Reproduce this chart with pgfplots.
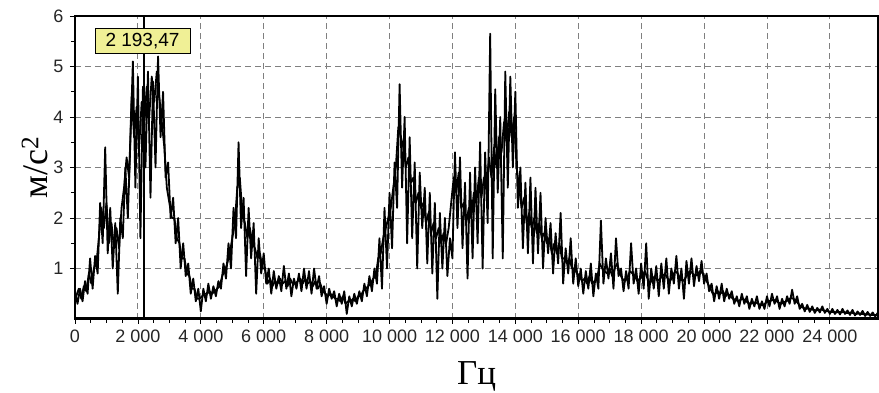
\documentclass[border=0pt]{standalone}
\usepackage{pgfplots}
\pgfplotsset{compat=1.18}
\usepackage{fontspec}
\setmainfont{Liberation Sans}
\newfontfamily\serifcyr{Liberation Serif}
\definecolor{tipyellow}{RGB}{240,240,150}
\begin{document}
\begin{tikzpicture}
\path[use as bounding box] (-75pt,-74pt) rectangle (804pt,319pt);
\begin{axis}[
  scale only axis, width=803pt, height=303pt,
  xmin=0, xmax=25530, ymin=0, ymax=6,
  scaled x ticks=false,
  axis line style={line width=1.5pt},
  tick pos=left, tick align=outside,
  major tick length=5pt, minor tick length=4pt,
  every tick/.style={black, line width=0.8pt},
  xtick={0,2000,4000,6000,8000,10000,12000,14000,16000,18000,20000,22000,24000},
  xticklabels={0,2 000,4 000,6 000,8 000,10 000,12 000,14 000,16 000,18 000,20 000,22 000,24 000},
  minor x tick num=3,
  ytick={1,2,3,4,5,6}, yticklabels={1,2,3,4,5,6},
  minor y tick num=1,
  grid=major,
  major grid style={black!50, line width=0.9pt, dash pattern=on 6pt off 4pt},
  tick label style={font=\fontsize{18}{20}\selectfont, text=black!85},
  xticklabel style={yshift=-2pt},
  yticklabel style={xshift=-3pt},
  xlabel={Гц}, ylabel={м/с\textsuperscript{2}},
  xlabel style={font=\serifcyr\fontsize{35}{38}\selectfont, at={(axis description cs:0.5,0)}, anchor=base, yshift=-66pt},
  ylabel style={font=\serifcyr\fontsize{36}{38}\selectfont, at={(axis description cs:-0.0345,0.5)}, anchor=base},
]
\addplot[black, line width=1.8pt, line join=round] coordinates {
(0,0.55)(80,0.3)(160,0.6)(240,0.35)(320,0.75)(400,0.5)(480,1.2)(560,0.6)(640,1.25)(720,0.9)
(800,2.3)(880,1.5)(960,3.4)(1040,1.3)(1120,2.2)(1200,1.0)(1280,1.9)(1360,0.5)(1440,2.0)(1520,1.6)
(1600,3.0)(1680,2.0)(1760,3.5)(1840,5.1)(1920,2.6)(2000,4.8)(2080,1.6)(2160,4.6)(2240,3.0)(2320,4.9)
(2400,2.4)(2480,4.7)(2560,3.0)(2640,5.2)(2720,3.6)(2800,4.5)(2880,2.8)(2960,3.1)(3040,2.0)(3120,2.4)
(3200,1.5)(3280,2.0)(3360,1.0)(3440,1.5)(3520,0.85)(3600,1.1)(3680,0.5)(3760,0.8)(3840,0.35)(3920,0.6)
(4000,0.15)(4080,0.6)(4160,0.35)(4240,0.7)(4320,0.4)(4400,0.65)(4480,0.45)(4560,0.75)(4640,0.6)(4720,1.1)
(4800,0.8)(4880,1.5)(4960,1.0)(5040,2.2)(5120,1.6)(5200,3.5)(5280,1.8)(5360,2.4)(5440,0.85)(5520,2.2)
(5600,1.2)(5680,1.9)(5760,0.5)(5840,1.6)(5920,0.9)(6000,1.3)(6080,0.7)(6160,1.0)(6240,0.5)(6320,0.95)
(6400,0.6)(6480,0.85)(6560,0.55)(6640,1.05)(6720,0.6)(6800,0.9)(6880,0.45)(6960,0.8)(7040,0.6)(7120,0.9)
(7200,0.55)(7280,1.0)(7360,0.6)(7440,0.95)(7520,0.5)(7600,1.0)(7680,0.6)(7760,0.85)(7840,0.45)(7920,0.65)
(8000,0.3)(8080,0.6)(8160,0.4)(8240,0.55)(8320,0.25)(8400,0.5)(8480,0.3)(8560,0.55)(8640,0.1)(8720,0.45)
(8800,0.25)(8880,0.5)(8960,0.3)(9040,0.55)(9120,0.35)(9200,0.7)(9280,0.45)(9360,0.85)(9440,0.55)(9520,1.0)
(9600,0.7)(9680,1.6)(9760,0.6)(9840,2.2)(9920,1.0)(10000,2.5)(10080,1.4)(10160,3.1)(10240,2.2)(10320,4.65)
(10400,2.6)(10480,4.0)(10560,1.5)(10640,3.6)(10720,1.6)(10800,3.1)(10880,1.0)(10960,2.9)(11040,1.8)(11120,2.6)
(11200,1.1)(11280,2.5)(11360,0.9)(11440,2.3)(11520,0.4)(11600,2.1)(11680,1.0)(11760,2.0)(11840,0.85)(11920,1.6)
(12000,1.2)(12080,3.3)(12160,1.8)(12240,3.2)(12320,1.4)(12400,2.7)(12480,0.8)(12560,2.9)(12640,1.2)(12720,3.0)
(12800,1.5)(12880,3.5)(12960,1.0)(13040,3.3)(13120,1.9)(13200,5.65)(13280,1.2)(13360,4.55)(13440,2.5)(13520,4.0)
(13600,1.2)(13680,4.9)(13760,2.6)(13840,4.8)(13920,3.0)(14000,4.5)(14080,2.2)(14160,3.0)(14240,1.4)(14320,2.7)
(14400,1.3)(14480,2.8)(14560,1.1)(14640,2.6)(14720,1.3)(14800,2.5)(14880,1.0)(14960,2.0)(15040,1.3)(15120,1.9)
(15200,0.9)(15280,1.7)(15360,1.1)(15440,2.1)(15520,0.7)(15600,1.4)(15680,0.9)(15760,1.6)(15840,0.7)(15920,1.2)
(16000,0.65)(16080,1.0)(16160,0.5)(16240,0.95)(16320,0.6)(16400,1.1)(16480,0.45)(16560,0.9)(16640,0.6)(16720,1.95)
(16800,0.7)(16880,1.2)(16960,0.8)(17040,1.3)(17120,0.6)(17200,1.6)(17280,0.85)(17360,1.0)(17440,0.55)(17520,0.95)
(17600,0.6)(17680,1.5)(17760,0.7)(17840,1.0)(17920,0.5)(18000,1.1)(18080,0.6)(18160,1.5)(18240,0.4)(18320,1.0)
(18400,0.6)(18480,1.05)(18560,0.45)(18640,1.1)(18720,0.6)(18800,1.2)(18880,0.5)(18960,1.0)(19040,0.7)(19120,1.25)
(19200,0.6)(19280,1.0)(19360,0.4)(19440,1.15)(19520,0.7)(19600,1.2)(19680,0.65)(19760,1.05)(19840,0.75)(19920,1.15)
(20000,0.7)(20080,0.9)(20160,0.55)(20240,0.7)(20320,0.35)(20400,0.65)(20480,0.4)(20560,0.7)(20640,0.35)(20720,0.6)
(20800,0.4)(20880,0.55)(20960,0.3)(21040,0.45)(21120,0.25)(21200,0.5)(21280,0.3)(21360,0.45)(21440,0.2)(21520,0.4)
(21600,0.25)(21680,0.45)(21760,0.2)(21840,0.35)(21920,0.2)(22000,0.45)(22080,0.25)(22160,0.5)(22240,0.3)(22320,0.45)
(22400,0.2)(22480,0.4)(22560,0.25)(22640,0.45)(22720,0.3)(22800,0.58)(22880,0.3)(22960,0.45)(23040,0.2)(23120,0.3)
(23200,0.15)(23280,0.28)(23360,0.14)(23440,0.25)(23520,0.12)(23600,0.22)(23680,0.13)(23760,0.25)(23840,0.12)(23920,0.2)
(24000,0.1)(24080,0.2)(24160,0.1)(24240,0.18)(24320,0.09)(24400,0.2)(24480,0.1)(24560,0.17)(24640,0.08)(24720,0.18)
(24800,0.07)(24880,0.15)(24960,0.08)(25040,0.16)(25120,0.06)(25200,0.14)(25280,0.06)(25360,0.13)(25440,0.05)(25520,0.12)
};
\addplot[black, line width=1.8pt, line join=round] coordinates {
(40,0.45)(120,0.6)(200,0.4)(280,0.65)(360,0.55)(440,0.9)(520,0.7)(600,1.0)(680,1.1)(760,1.6)
(840,2.2)(920,1.8)(1000,2.3)(1080,1.5)(1160,1.9)(1240,1.4)(1320,1.8)(1400,1.4)(1480,2.2)(1560,2.6)
(1640,3.2)(1720,2.8)(1800,4.4)(1880,3.6)(1960,4.2)(2040,3.4)(2120,4.3)(2200,3.8)(2280,4.6)(2360,4.0)
(2440,4.8)(2520,4.3)(2600,4.9)(2680,4.4)(2760,3.9)(2840,3.4)(2920,2.6)(3000,2.3)(3080,2.0)(3160,2.0)
(3240,1.6)(3320,1.5)(3400,1.2)(3480,1.2)(3560,0.9)(3640,0.85)(3720,0.6)(3800,0.6)(3880,0.4)(3960,0.4)
(4040,0.45)(4120,0.5)(4200,0.5)(4280,0.55)(4360,0.5)(4440,0.55)(4520,0.6)(4600,0.65)(4680,0.85)(4760,0.95)
(4840,1.1)(4920,1.3)(5000,1.6)(5080,1.9)(5160,2.6)(5240,2.8)(5320,2.1)(5400,1.9)(5480,1.6)(5560,1.8)
(5640,1.5)(5720,1.4)(5800,1.2)(5880,1.3)(5960,1.0)(6040,1.0)(6120,0.7)(6200,0.8)(6280,0.65)(6360,0.75)
(6440,0.7)(6520,0.8)(6600,0.7)(6680,0.75)(6760,0.65)(6840,0.8)(6920,0.7)(7000,0.7)(7080,0.75)(7160,0.8)
(7240,0.7)(7320,0.8)(7400,0.7)(7480,0.75)(7560,0.65)(7640,0.75)(7720,0.6)(7800,0.7)(7880,0.55)(7960,0.5)
(8040,0.45)(8120,0.5)(8200,0.45)(8280,0.4)(8360,0.4)(8440,0.35)(8520,0.45)(8600,0.3)(8680,0.35)(8760,0.35)
(8840,0.4)(8920,0.35)(9000,0.45)(9080,0.45)(9160,0.55)(9240,0.6)(9320,0.65)(9400,0.7)(9480,0.8)(9560,0.85)
(9640,1.2)(9720,1.3)(9800,1.6)(9880,1.8)(9960,2.0)(10040,2.2)(10120,2.6)(10200,3.0)(10280,3.8)(10360,3.6)
(10440,3.4)(10520,3.0)(10600,3.2)(10680,2.7)(10760,2.8)(10840,2.3)(10920,2.5)(11000,2.2)(11080,2.3)(11160,1.9)
(11240,2.1)(11320,1.7)(11400,1.9)(11480,1.6)(11560,1.8)(11640,1.5)(11720,1.7)(11800,1.5)(11880,1.8)(11960,2.3)
(12040,2.8)(12120,2.5)(12200,2.9)(12280,2.2)(12360,2.3)(12440,1.9)(12520,2.2)(12600,2.0)(12680,2.5)(12760,2.3)
(12840,2.8)(12920,2.4)(13000,2.8)(13080,2.6)(13160,3.2)(13240,2.8)(13320,3.4)(13400,3.0)(13480,3.6)(13560,3.3)
(13640,3.9)(13720,3.5)(13800,4.1)(13880,3.6)(13960,4.0)(14040,3.0)(14120,2.6)(14200,2.2)(14280,2.4)(14360,1.9)
(14440,2.1)(14520,1.8)(14600,2.0)(14680,1.7)(14760,1.9)(14840,1.6)(14920,1.7)(15000,1.5)(15080,1.6)(15160,1.3)
(15240,1.5)(15320,1.3)(15400,1.5)(15480,1.2)(15560,1.2)(15640,1.1)(15720,1.2)(15800,1.0)(15880,1.0)(15960,0.9)
(16040,0.85)(16120,0.75)(16200,0.8)(16280,0.7)(16360,0.85)(16440,0.7)(16520,0.75)(16600,0.8)(16680,1.1)(16760,1.0)
(16840,0.95)(16920,0.9)(17000,1.0)(17080,0.85)(17160,1.0)(17240,1.1)(17320,0.9)(17400,0.8)(17480,0.75)(17560,0.8)
(17640,0.95)(17720,0.9)(17800,0.85)(17880,0.75)(17960,0.8)(18040,0.85)(18120,0.95)(18200,0.8)(18280,0.7)(18360,0.8)
(18440,0.85)(18520,0.75)(18600,0.8)(18680,0.85)(18760,0.9)(18840,0.8)(18920,0.75)(19000,0.85)(19080,0.95)(19160,0.9)
(19240,0.8)(19320,0.75)(19400,0.8)(19480,0.9)(19560,0.95)(19640,0.9)(19720,0.85)(19800,0.9)(19880,0.95)(19960,0.9)
(20040,0.8)(20120,0.7)(20200,0.6)(20280,0.5)(20360,0.5)(20440,0.55)(20520,0.5)(20600,0.55)(20680,0.45)(20760,0.5)
(20840,0.45)(20920,0.4)(21000,0.38)(21080,0.35)(21160,0.38)(21240,0.4)(21320,0.36)(21400,0.32)(21480,0.3)(21560,0.32)
(21640,0.33)(21720,0.3)(21800,0.28)(21880,0.27)(21960,0.32)(22040,0.35)(22120,0.36)(22200,0.38)(22280,0.36)(22360,0.33)
(22440,0.3)(22520,0.32)(22600,0.35)(22680,0.37)(22760,0.42)(22840,0.4)(22920,0.36)(23000,0.3)(23080,0.24)(23160,0.22)
(23240,0.2)(23320,0.21)(23400,0.19)(23480,0.18)(23560,0.17)(23640,0.18)(23720,0.19)(23800,0.17)(23880,0.16)(23960,0.15)
(24040,0.14)(24120,0.14)(24200,0.13)(24280,0.14)(24360,0.13)(24440,0.14)(24520,0.12)(24600,0.12)(24680,0.13)(24760,0.11)
(24840,0.1)(24920,0.11)(25000,0.1)(25080,0.1)(25160,0.09)(25240,0.09)(25320,0.08)(25400,0.08)(25480,0.08)
};
\addplot[black, line width=1.5pt] coordinates {(2193.47,0)(2193.47,6)};
\node[draw=black, line width=0.8pt, fill=tipyellow, minimum width=95pt, minimum height=25pt, inner sep=0pt,
  font=\fontsize{19}{21}\selectfont, xshift=-1.5pt] at (axis cs:2193.47,5.5) {2 193,47};
\draw[line width=3pt] (rel axis cs:0,0) -- (rel axis cs:0,1);
\draw[line width=3pt] (rel axis cs:0,0) -- (rel axis cs:1,0);
\end{axis}
\end{tikzpicture}
\end{document}
